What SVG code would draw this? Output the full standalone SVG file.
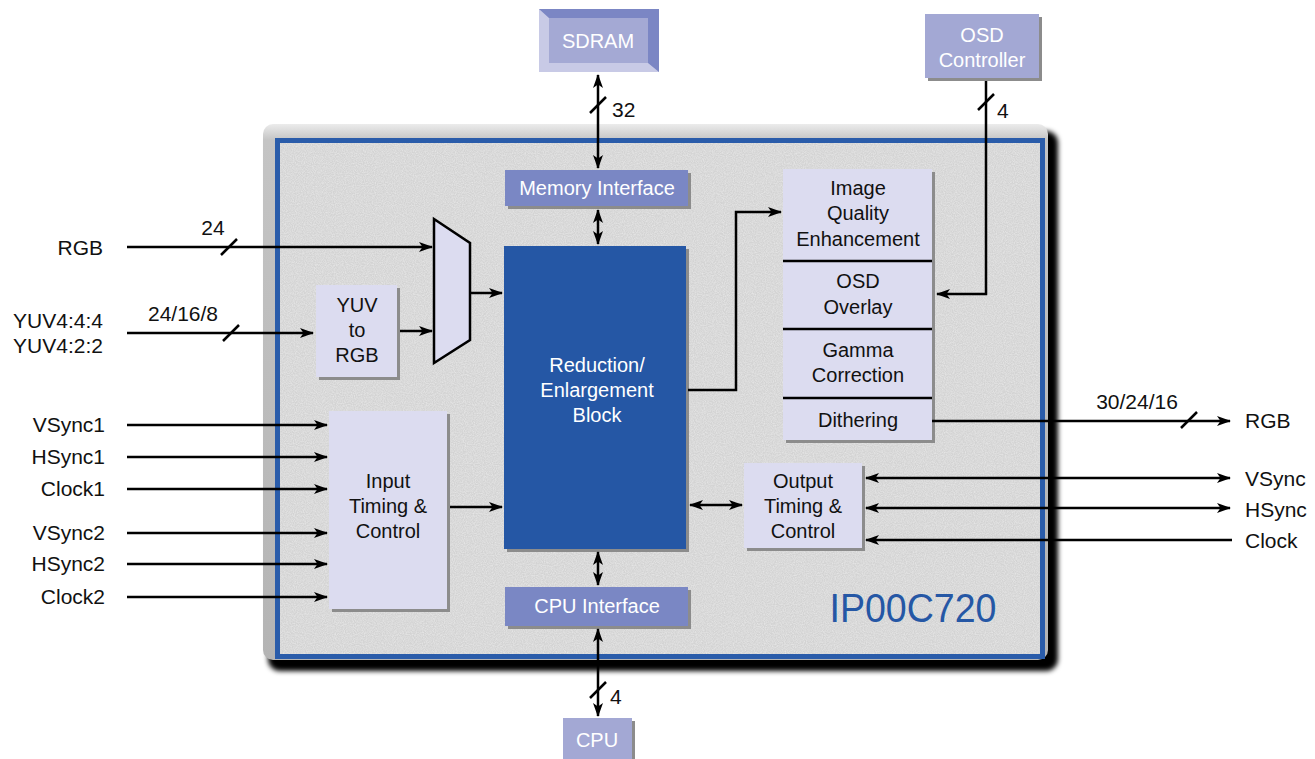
<svg xmlns="http://www.w3.org/2000/svg" width="1315" height="759" viewBox="0 0 1315 759">
<defs>
  <marker id="ah" viewBox="0 0 14 10" refX="13" refY="5" markerWidth="14" markerHeight="10" markerUnits="userSpaceOnUse" orient="auto-start-reverse">
    <path d="M0,0 L14,5 L0,10 L3.5,5 z" fill="#000"/>
  </marker>
  <filter id="blur" x="-5%" y="-5%" width="110%" height="110%">
    <feGaussianBlur stdDeviation="2.5"/>
  </filter>
  <filter id="noise" x="0" y="0" width="100%" height="100%">
    <feTurbulence type="fractalNoise" baseFrequency="0.9" numOctaves="2" seed="3" result="n"/>
    <feColorMatrix in="n" type="matrix" values="0 0 0 0 1  0 0 0 0 1  0 0 0 0 1  0 0 0 0.7 -0.2"/>
  </filter>
  <linearGradient id="frameG" x1="0" y1="0" x2="0" y2="1">
    <stop offset="0" stop-color="#ececec"/>
    <stop offset="0.03" stop-color="#c4c4c4"/>
    <stop offset="1" stop-color="#b4b4b4"/>
  </linearGradient>
</defs>
<style>
  text { font-family: "Liberation Sans", Arial, sans-serif; font-size: 20px; fill: #111; }
  .c { text-anchor: middle; }
  .r { text-anchor: end; }
  .w { fill: #fff; }
  .lbl { font-size: 21px; }
  .wire { fill: none; stroke: #000; stroke-width: 2.5; }
  .slash { stroke: #000; stroke-width: 2.5; }
  .shadow { fill: #8c8c8c; }
  .light { fill: #dcdcf0; }
  .mid { fill: #7a87c4; }
  .pale { fill: #a3a8d4; }
  .dark { fill: #2557a5; }
</style>
<rect width="1315" height="759" fill="#fff"/>

<!-- chip frame -->
<g id="chip">
  <rect x="268" y="131" width="790" height="540" rx="12" fill="#000" filter="url(#blur)"/>
  <rect x="263" y="124" width="785" height="536" rx="10" fill="url(#frameG)"/>
  <rect x="277.5" y="140.5" width="765" height="516" fill="#d3d3d3" stroke="#2a5caa" stroke-width="5"/>
  <rect x="280" y="143" width="760" height="511" fill="#000" filter="url(#noise)"/>
  <text x="913" y="622" class="c" style="font-size:40px;fill:#2557a5" textLength="167" lengthAdjust="spacingAndGlyphs">IP00C720</text>
</g>

<!-- external boxes -->
<g id="sdram">
  <rect x="539" y="9" width="120" height="63" fill="#c8cae6"/>
  <polygon points="539,9 659,9 659,72 648,63 648,18 549,18" fill="#7b86c4"/>
  <rect x="549" y="18" width="99" height="45" fill="#a4a9d4"/>
  <text x="598" y="48" class="c w">SDRAM</text>
</g>
<g id="osd-controller">
  <rect x="928" y="17" width="114" height="64" class="shadow"/>
  <rect x="925" y="14" width="114" height="64" class="pale"/>
  <text x="982" y="42" class="c w">OSD</text>
  <text x="982" y="67" class="c w">Controller</text>
</g>
<g id="cpu">
  <rect x="566" y="721" width="69" height="41" class="shadow"/>
  <rect x="563" y="718" width="69" height="41" class="pale"/>
  <text x="597" y="747" class="c w">CPU</text>
</g>

<!-- internal blocks -->
<g id="memory-interface">
  <rect x="508" y="173" width="183" height="36" class="shadow"/>
  <rect x="505" y="170" width="183" height="36" class="mid"/>
  <text x="597" y="195" class="c w">Memory Interface</text>
</g>
<g id="reduction">
  <rect x="507" y="249" width="182" height="303" class="shadow"/>
  <rect x="504" y="246" width="182" height="303" class="dark"/>
  <text x="597" y="372" class="c w">Reduction/</text>
  <text x="597" y="397" class="c w">Enlargement</text>
  <text x="597" y="422" class="c w">Block</text>
</g>
<g id="cpu-interface">
  <rect x="508" y="590" width="183" height="39" class="shadow"/>
  <rect x="505" y="587" width="183" height="39" class="mid"/>
  <text x="597" y="613" class="c w">CPU Interface</text>
</g>
<g id="yuv-to-rgb">
  <rect x="319" y="288" width="81" height="92" class="shadow"/>
  <rect x="316" y="285" width="81" height="92" class="light"/>
  <text x="357" y="312" class="c">YUV</text>
  <text x="357" y="337" class="c">to</text>
  <text x="357" y="362" class="c">RGB</text>
</g>
<g id="mux">
  <polygon points="434,219 470,243 470,340 434,363" fill="#dcdcf0" stroke="#000" stroke-width="2.5" stroke-linejoin="miter"/>
</g>
<g id="image-pipeline">
  <rect x="786" y="172" width="149" height="271" class="shadow"/>
  <rect x="783" y="169" width="149" height="271" class="light"/>
  <line x1="783" y1="261" x2="932" y2="261" stroke="#000" stroke-width="2.5"/>
  <line x1="783" y1="329" x2="932" y2="329" stroke="#000" stroke-width="2.5"/>
  <line x1="783" y1="398" x2="932" y2="398" stroke="#000" stroke-width="2.5"/>
  <text x="858" y="195" class="c">Image</text>
  <text x="858" y="220" class="c">Quality</text>
  <text x="858" y="246" class="c">Enhancement</text>
  <text x="858" y="288" class="c">OSD</text>
  <text x="858" y="314" class="c">Overlay</text>
  <text x="858" y="357" class="c">Gamma</text>
  <text x="858" y="382" class="c">Correction</text>
  <text x="858" y="427" class="c">Dithering</text>
</g>
<g id="output-timing">
  <rect x="747" y="466" width="118" height="85" class="shadow"/>
  <rect x="744" y="463" width="118" height="85" class="light"/>
  <text x="803" y="488" class="c">Output</text>
  <text x="803" y="513" class="c">Timing &amp;</text>
  <text x="803" y="538" class="c">Control</text>
</g>
<g id="input-timing">
  <rect x="332" y="414" width="118" height="198" class="shadow"/>
  <rect x="329" y="411" width="118" height="198" class="light"/>
  <text x="388" y="488" class="c">Input</text>
  <text x="388" y="513" class="c">Timing &amp;</text>
  <text x="388" y="538" class="c">Control</text>
</g>

<!-- connectors -->
<g id="connectors">
  <path class="wire" d="M598,75 V168" marker-start="url(#ah)" marker-end="url(#ah)"/>
  <line class="slash" x1="590" y1="113" x2="606" y2="97"/>
  <path class="wire" d="M598,210 V244" marker-start="url(#ah)" marker-end="url(#ah)"/>
  <path class="wire" d="M598,552 V585" marker-start="url(#ah)" marker-end="url(#ah)"/>
  <path class="wire" d="M598,629 V716" marker-start="url(#ah)" marker-end="url(#ah)"/>
  <line class="slash" x1="590" y1="698" x2="606" y2="682"/>
  <path class="wire" d="M986,81 V294 H937" marker-end="url(#ah)"/>
  <line class="slash" x1="978" y1="110" x2="994" y2="94"/>
  <path class="wire" d="M127,247 H432" marker-end="url(#ah)"/>
  <line class="slash" x1="221" y1="255" x2="237" y2="239"/>
  <path class="wire" d="M127,333 H313" marker-end="url(#ah)"/>
  <line class="slash" x1="223" y1="341" x2="239" y2="325"/>
  <path class="wire" d="M400,331 H432" marker-end="url(#ah)"/>
  <path class="wire" d="M470,293 H502" marker-end="url(#ah)"/>
  <path class="wire" d="M688,390 H736 V212 H781" marker-end="url(#ah)"/>
  <path class="wire" d="M932,421 H1230" marker-end="url(#ah)"/>
  <line class="slash" x1="1181" y1="428" x2="1197" y2="412"/>
  <path class="wire" d="M690,505 H742" marker-start="url(#ah)" marker-end="url(#ah)"/>
  <path class="wire" d="M866,478 H1230" marker-start="url(#ah)" marker-end="url(#ah)"/>
  <path class="wire" d="M866,508 H1230" marker-start="url(#ah)" marker-end="url(#ah)"/>
  <path class="wire" d="M1232,540 H866" marker-end="url(#ah)"/>
  <path class="wire" d="M450,507 H502" marker-end="url(#ah)"/>
  <path class="wire" d="M127,425 H327" marker-end="url(#ah)"/>
  <path class="wire" d="M127,457 H327" marker-end="url(#ah)"/>
  <path class="wire" d="M127,489 H327" marker-end="url(#ah)"/>
  <path class="wire" d="M127,533 H327" marker-end="url(#ah)"/>
  <path class="wire" d="M127,564 H327" marker-end="url(#ah)"/>
  <path class="wire" d="M127,597 H327" marker-end="url(#ah)"/>
</g>

<!-- labels -->
<g id="labels">
  <text x="612" y="117" class="lbl">32</text>
  <text x="997" y="118" class="lbl">4</text>
  <text x="610" y="704" class="lbl">4</text>
  <text x="103" y="255" class="r lbl">RGB</text>
  <text x="213" y="235" class="c lbl">24</text>
  <text x="183" y="321" class="c lbl">24/16/8</text>
  <text x="103" y="328" class="r lbl">YUV4:4:4</text>
  <text x="103" y="353" class="r lbl">YUV4:2:2</text>
  <text x="105" y="432" class="r lbl">VSync1</text>
  <text x="105" y="464" class="r lbl">HSync1</text>
  <text x="105" y="496" class="r lbl">Clock1</text>
  <text x="105" y="540" class="r lbl">VSync2</text>
  <text x="105" y="571" class="r lbl">HSync2</text>
  <text x="105" y="604" class="r lbl">Clock2</text>
  <text x="1137" y="409" class="c lbl">30/24/16</text>
  <text x="1245" y="428" class="lbl">RGB</text>
  <text x="1245" y="486" class="lbl">VSync</text>
  <text x="1245" y="517" class="lbl">HSync</text>
  <text x="1245" y="548" class="lbl">Clock</text>
</g>
</svg>
